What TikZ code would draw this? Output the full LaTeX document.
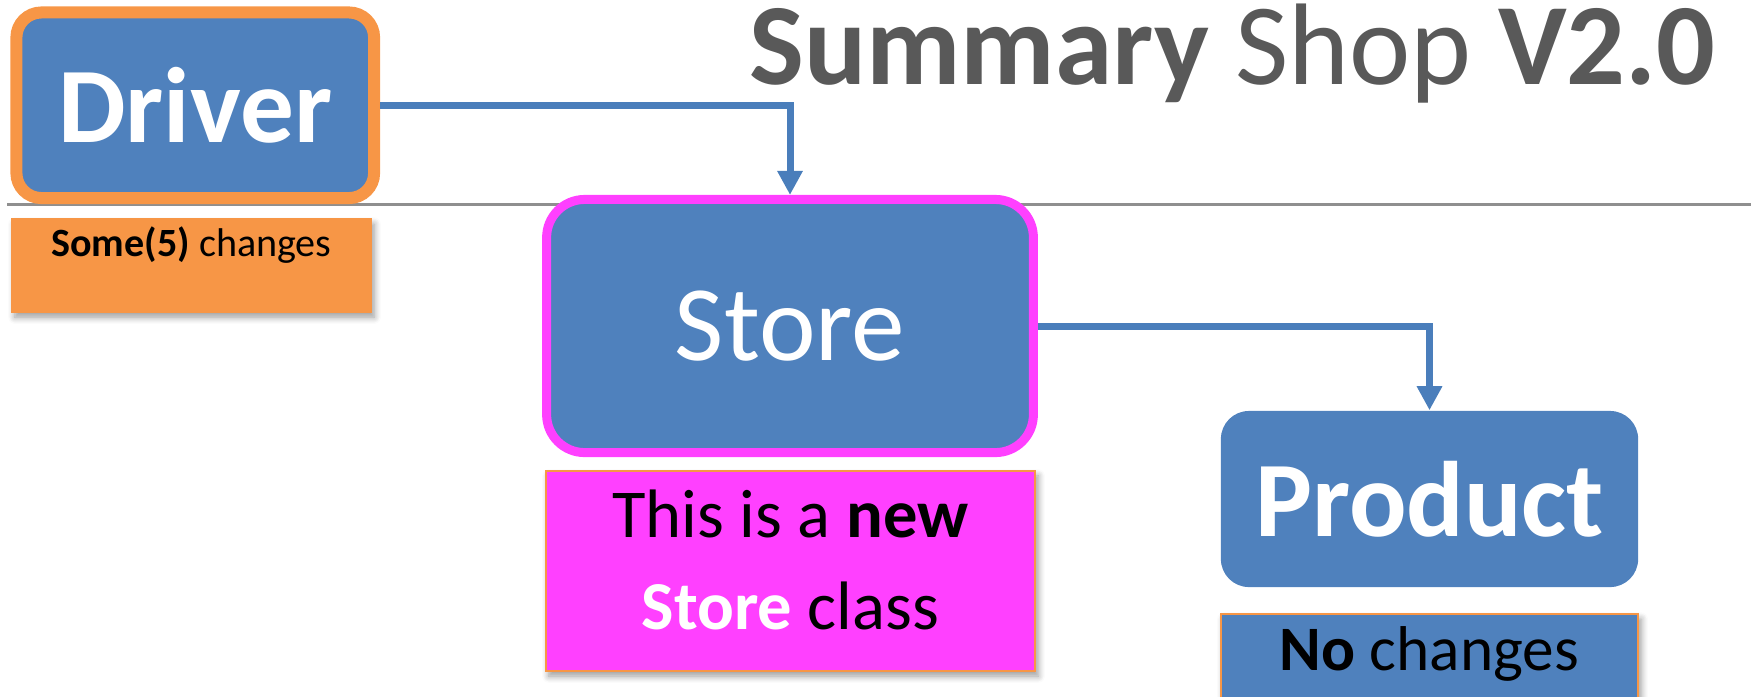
\documentclass[tikz,border=0pt]{standalone}
\usepackage{fontspec}
\setmainfont{Carlito}
\usetikzlibrary{arrows.meta,shadows.blur}
\definecolor{boxblue}{HTML}{4F81BD}
\definecolor{boxorange}{HTML}{F79646}
\definecolor{boxpink}{HTML}{FF40FF}
\definecolor{linkblue}{HTML}{4A7EBB}
\definecolor{titlegray}{HTML}{595959}
\definecolor{sepgray}{HTML}{8F8F8F}
\begin{document}
\begin{tikzpicture}[x=0.01cm, y=-0.01cm]
\tikzstyle{class}=[rectangle, fill=boxblue, text=white, inner sep=0pt]
\tikzstyle{note}=[rectangle, draw=boxorange, line width=0.6pt, inner sep=0pt,
    blur shadow={shadow xshift=0.03cm, shadow yshift=-0.05cm, shadow blur steps=6}]
\tikzstyle{link}=[draw=linkblue, line width=0.07cm, -{Triangle[length=0.24cm, width=0.24cm]}]
\useasboundingbox (0,0) rectangle (1758,696);
    % separator
    \coordinate (sepleft) at (7,204);
    \coordinate (sepright) at (1751,204);
    \draw[sepgray, line width=0.03cm] (sepleft) -- (sepright);
    \node [anchor=base east, text=titlegray, inner sep=0pt, font=\fontsize{33}{40}\selectfont] (title) at (1716,84)
        {\textbf{Summary} Shop \textbf{V2.0}};
    % classes
    \node [class, draw=boxorange, line width=0.12cm, rounded corners=0.25cm, minimum width=3.575cm, minimum height=1.855cm,
        font=\fontsize{30.5}{36}\selectfont\bfseries] (driver) at (195.25,105.25) {Driver};
    \node [class, draw=boxpink, line width=0.09cm, rounded corners=0.38cm, minimum width=4.865cm, minimum height=2.53cm,
        font=\fontsize{30.5}{36}\selectfont] (store) at (790,326) {Store};
    \node [class, rounded corners=0.28cm, minimum width=4.17cm, minimum height=1.76cm,
        font=\fontsize{30.5}{36}\selectfont\bfseries] (product) at (1429.5,499) {Product};
    % notes
    \node [note, fill=boxorange, anchor=north, minimum width=3.59cm, text height=0.37cm, text depth=0.56cm,
        font=\fontsize{11.4}{13}\selectfont] (drivernote) at (191.5,218) {\textbf{Some(5)} changes};
    \node [note, fill=boxpink, minimum width=4.89cm, minimum height=2cm, align=center,
        font=\fontsize{19.5}{26.2}\selectfont] (storenote) at (790.5,571)
        {This is a \textbf{new}\\\textcolor{white}{\textbf{Store}} class\rule[-0.22cm]{0pt}{0pt}};
    \node [note, fill=boxblue, anchor=north, minimum width=4.17cm, text height=0.56cm, text depth=0.44cm,
        font=\fontsize{18}{22}\selectfont] (productnote) at (1429.5,613) {\textbf{No} changes};
    % links
    \draw[link] (driver.east) -| (store.north);
    \draw[link] (store.east) -| (product.north);
\end{tikzpicture}
\end{document}
